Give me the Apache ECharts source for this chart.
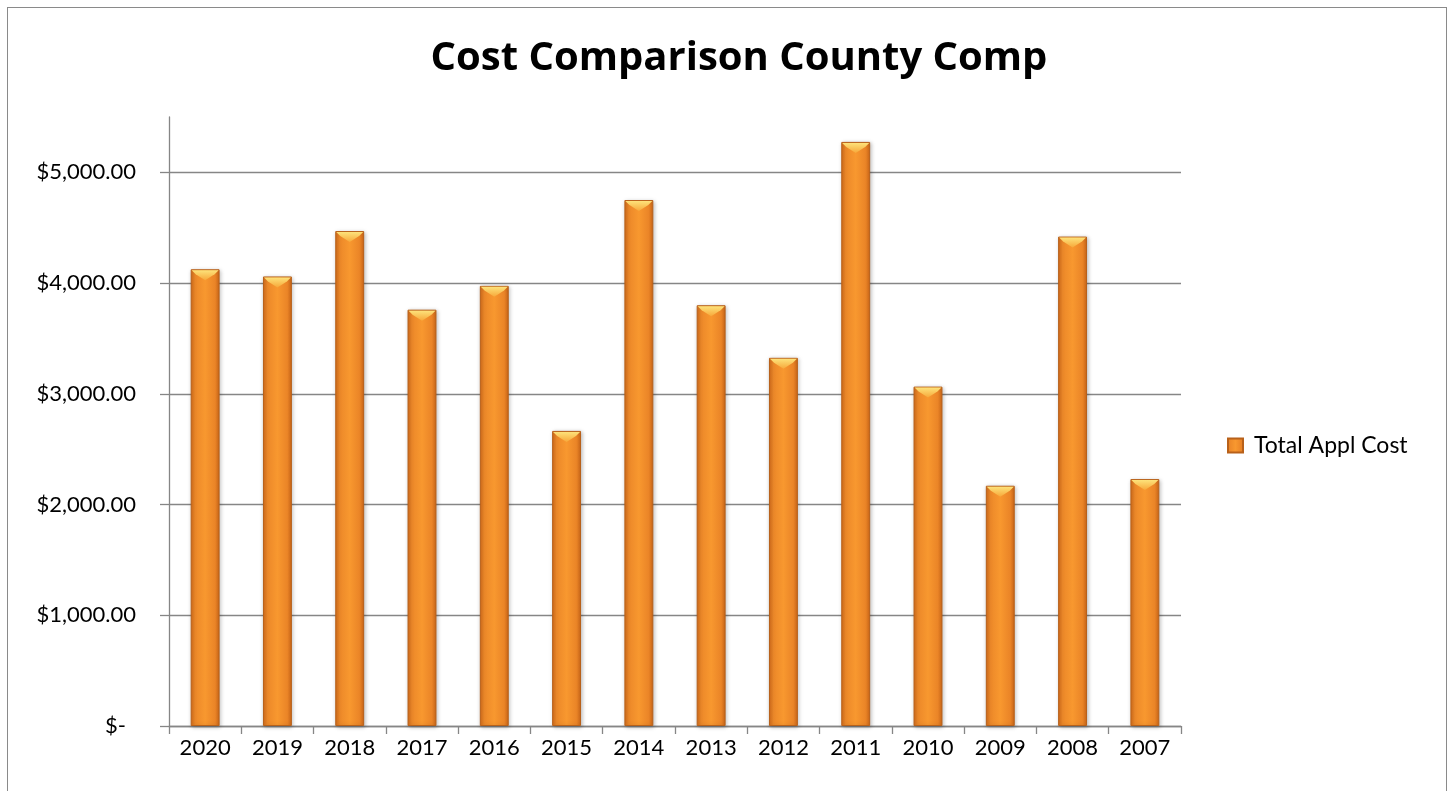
<!DOCTYPE html>
<html>
<head>
<meta charset="utf-8">
<script src="https://cdn.jsdelivr.net/npm/echarts@6/dist/echarts.min.js"></script>
<style>
  html, body { margin: 0; padding: 0; background: #fff; }
  #frame { position: absolute; left: 7px; top: 7px; width: 1440px; height: 800px; border: 1px solid #8a8a8a; box-sizing: border-box; }
  #chart { width: 1453px; height: 791px; }
</style>
</head>
<body>
<div id="frame"></div>
<div id="chart"></div>
<script>
const years = ['2020', '2019', '2018', '2017', '2016', '2015', '2014', '2013', '2012', '2011', '2010', '2009', '2008', '2007']
const totalApplCost = [4125, 4060, 4470, 3760, 3975, 2665, 4750, 3800, 3325, 5275, 3065, 2170, 4420, 2230]
const seriesName = 'Total Appl Cost'
const titleText = 'Cost Comparison County Comp'

function money(v) {
  if (v === 0) return '{z|$-}'
  return '$' + v.toLocaleString('en-US', { minimumFractionDigits: 2, maximumFractionDigits: 2 })
}

const chart = echarts.init(document.getElementById('chart'))
const font = 'Lato, "Open Sans", sans-serif'
const axisGray = '#868686'

const barFill = new echarts.graphic.LinearGradient(0, 0, 1, 0, [
  { offset: 0, color: '#d46c1b' },
  { offset: 0.15, color: '#ec8829' },
  { offset: 0.5, color: '#f8982f' },
  { offset: 0.85, color: '#ea8427' },
  { offset: 1, color: '#cc6617' }
])

// yellow chevron bevel on top of each bar, placed through the axes
function bevel(params, api) {
  const top = api.coord([api.value(0), api.value(1)])
  const w = api.size([1, 0])[0] * 0.4
  const x0 = top[0] - w / 2, x1 = top[0] + w / 2, y = top[1]
  return {
    type: 'polygon',
    shape: { points: [[x0 + 1, y + 1], [x1 - 1, y + 1], [x1 - 5, y + 5], [top[0], y + 11], [x0 + 5, y + 5]] },
    style: {
      fill: new echarts.graphic.LinearGradient(0, 0, 0, 1, [
        { offset: 0, color: '#fde27a' },
        { offset: 1, color: '#f7a83a' }
      ])
    }
  }
}

chart.setOption({
  animation: false,
  title: {
    text: titleText,
    left: 734,
    top: 34,
    textAlign: 'center',
    textStyle: { fontFamily: '"Open Sans", Lato, sans-serif', fontWeight: 'bold', fontSize: 40, color: '#000' }
  },
  legend: {
    data: [seriesName],
    orient: 'vertical',
    left: 1222,
    top: 429,
    itemWidth: 15,
    itemHeight: 14,
    itemGap: 10,
    icon: 'rect',
    textStyle: { fontFamily: font, fontSize: 23, color: '#000', padding: [0, 0, 0, 6] }
  },
  grid: { left: 169, right: 272, top: 117, bottom: 65 },
  xAxis: {
    type: 'category',
    data: years,
    boundaryGap: true,
    axisLine: { lineStyle: { color: axisGray, width: 1.3 } },
    axisTick: { show: true, length: 8, lineStyle: { color: axisGray, width: 1.3 } },
    axisLabel: { fontFamily: font, fontSize: 22, color: '#000', margin: 11 }
  },
  yAxis: {
    type: 'value',
    min: 0,
    max: 5500,
    interval: 1000,
    axisLine: { show: true, lineStyle: { color: axisGray, width: 1.3 } },
    axisTick: { show: true, length: 9, lineStyle: { color: axisGray, width: 1.3 } },
    axisLabel: {
      fontFamily: font, fontSize: 22, color: '#000', margin: 33,
      showMaxLabel: false,
      formatter: v => (v > 5000 ? '' : money(v)),
      rich: { z: { fontFamily: font, fontSize: 22, color: '#000', padding: [0, 10, 0, 0] } }
    },
    splitLine: { show: true, showMaxLine: false, lineStyle: { color: axisGray, width: 1.3 } }
  },
  series: [{
    name: seriesName,
    type: 'bar',
    data: totalApplCost,
    barWidth: '40%',
    itemStyle: {
      color: barFill,
      borderColor: '#b8611a',
      borderWidth: 1,
      shadowColor: 'rgba(0,0,0,0.25)',
      shadowBlur: 4,
      shadowOffsetX: 1,
      shadowOffsetY: 1
    }
  }, {
    name: 'bevel',
    type: 'custom',
    data: totalApplCost.map((v, i) => [i, v]),
    renderItem: bevel,
    silent: true,
    z: 3
  }]
})
</script>
</body>
</html>
